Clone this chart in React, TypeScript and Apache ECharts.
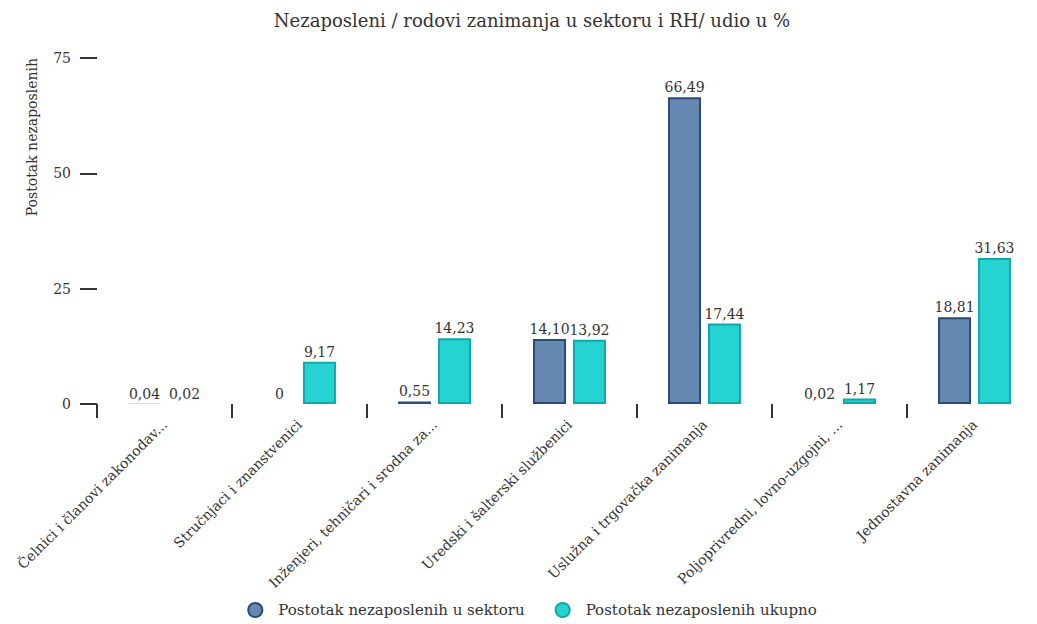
import React, { useEffect, useRef } from "react";
import * as echarts from "echarts";

const title = "Nezaposleni / rodovi zanimanja u sektoru i RH/ udio u %";
const yAxisName = "Postotak nezaposlenih";
const categories = [
  "Čelnici i članovi zakonodav...",
  "Stručnjaci i znanstvenici",
  "Inženjeri, tehničari i srodna za...",
  "Uredski i šalterski službenici",
  "Uslužna i trgovačka zanimanja",
  "Poljoprivredni, lovno-uzgojni, ...",
  "Jednostavna zanimanja",
];
const seriesSectorName = "Postotak nezaposlenih u sektoru";
const seriesSector = [0.04, 0, 0.55, 14.1, 66.49, 0.02, 18.81];
const seriesTotalName = "Postotak nezaposlenih ukupno";
const seriesTotal = [0.02, 9.17, 14.23, 13.92, 17.44, 1.17, 31.63];
const yTicks = { min: 0, max: 75, interval: 25 };

const FONT = "DejaVu Serif";

const fmt = (v: number) => (v === 0 ? "0" : v.toFixed(2).replace(".", ","));
const toItems = (arr: number[]) =>
  arr.map((v) => ({ value: v, itemStyle: { borderWidth: v < 0.1 ? 0 : 2 } }));

export default function App() {
  const ref = useRef<HTMLDivElement>(null);
  useEffect(() => {
    if (!ref.current) return;
    const chart = echarts.init(ref.current, undefined, { renderer: "svg" });
    const labelCfg = {
      show: true,
      position: "top" as const,
      distance: 3,
      color: "#333",
      fontFamily: FONT,
      fontSize: 14,
      formatter: (p: any) => fmt(p.value),
    };
    chart.setOption({
      animation: false,
      textStyle: { fontFamily: FONT },
      title: {
        text: title,
        left: "center",
        top: 6,
        textStyle: { fontFamily: FONT, fontSize: 18, fontWeight: "normal", color: "#333" },
      },
      legend: {
        bottom: 1,
        left: "center",
        icon: "circle",
        itemWidth: 36,
        itemHeight: 14,
        itemGap: 30,
        textStyle: { fontFamily: FONT, fontSize: 15, color: "#333" },
        data: [seriesSectorName, seriesTotalName],
      },
      graphic: [
        {
          type: "text",
          x: 32,
          y: 58,
          rotation: Math.PI / 2,
          style: {
            text: yAxisName,
            fontFamily: FONT,
            fontSize: 14,
            fill: "#333",
            align: "right",
            verticalAlign: "middle",
          },
        },
      ],
      grid: { left: 97, right: 22, top: 58, bottom: 220 },
      xAxis: {
        type: "category",
        data: categories,
        axisLine: { show: false },
        axisTick: { show: true, length: 14, lineStyle: { color: "#333", width: 2 } },
        axisLabel: {
          rotate: 45,
          interval: 0,
          margin: 18,
          color: "#333",
          fontFamily: FONT,
          fontSize: 14,
        },
      },
      yAxis: {
        type: "value",
        min: yTicks.min,
        max: yTicks.max,
        interval: yTicks.interval,
        axisLine: { show: false },
        axisTick: { show: true, length: 17, lineStyle: { color: "#333", width: 2 } },
        splitLine: { show: false },
        axisLabel: { margin: 26, color: "#333", fontFamily: FONT, fontSize: 14 },
      },
      series: [
        {
          name: seriesSectorName,
          type: "bar",
          data: toItems(seriesSector),
          barWidth: 33,
          barGap: "21%",
          itemStyle: { color: "#6689b3", borderColor: "#2c4a73", borderWidth: 2 },
          label: labelCfg,
        },
        {
          name: seriesTotalName,
          type: "bar",
          data: toItems(seriesTotal),
          barWidth: 33,
          barGap: "21%",
          itemStyle: { color: "#25d3d3", borderColor: "#10a9a9", borderWidth: 2 },
          label: labelCfg,
        },
      ],
    });
    return () => chart.dispose();
  }, []);
  return (
    <div style={{ position: "fixed", left: 0, top: 0, width: 1037, height: 624, overflow: "hidden", background: "#fff" }}>
      <div ref={ref} style={{ width: 1064, height: 624 }} />
    </div>
  );
}
